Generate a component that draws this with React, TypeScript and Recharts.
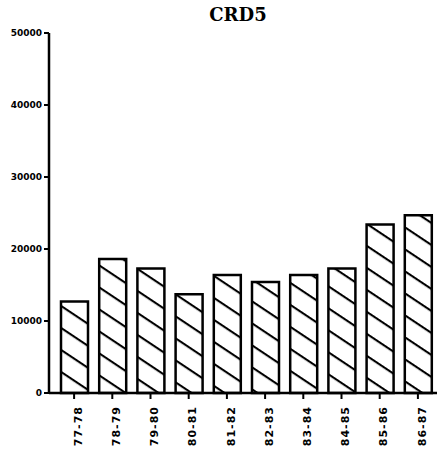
import { BarChart, Bar, XAxis, YAxis } from 'recharts';

const years = ['77-78', '78-79', '79-80', '80-81', '81-82', '82-83', '83-84', '84-85', '85-86', '86-87'];
const values = [12700, 18600, 17300, 13700, 16400, 15400, 16400, 17300, 23400, 24700];
const yTicks = [0, 10000, 20000, 30000, 40000, 50000];

const data = years.map((year, i) => ({ year, value: values[i] }));

const tickFont = { fontFamily: 'DejaVu Sans', fontWeight: 'bold', fontSize: 9, fill: '#000' };

const App = () => {
  return (
    <div style={{ position: 'absolute', left: 0, top: 0, width: 437, height: 460, background: '#fff' }}>
      <svg width={0} height={0} style={{ position: 'absolute' }}>
        <defs>
          <pattern id="hatch" patternUnits="userSpaceOnUse" width={10} height={18.3} patternTransform="rotate(33.7)">
            <line x1={-5} y1={1} x2={15} y2={1} stroke="#000" strokeWidth={2.2} />
          </pattern>
        </defs>
      </svg>
      <div
        style={{
          position: 'absolute',
          left: 188,
          width: 100,
          top: 4,
          textAlign: 'center',
          fontFamily: 'DejaVu Serif',
          fontWeight: 'bold',
          fontSize: 18,
          color: '#000',
        }}
      >
        CRD5
      </div>
      <BarChart width={437} height={460} data={data} margin={{ top: 33, right: 0, left: 0, bottom: 0 }} barSize={27}>
        <XAxis
          dataKey="year"
          height={67}
          interval={0}
          padding={{ left: 6, right: 0 }}
          axisLine={{ stroke: '#000', strokeWidth: 2.5 }}
          tickLine={{ stroke: '#000', strokeWidth: 2 }}
          tickSize={6}
          tickMargin={10}
          angle={-90}
          textAnchor="end"
          tick={{ ...tickFont, fontSize: 11, letterSpacing: 1, dy: -3 }}
        />
        <YAxis
          width={49}
          domain={[0, 50000]}
          ticks={yTicks}
          interval={0}
          axisLine={{ stroke: '#000', strokeWidth: 2.5 }}
          tickLine={{ stroke: '#000', strokeWidth: 2 }}
          tickSize={5}
          tickMargin={2}
          tick={tickFont}
        />
        <Bar dataKey="value" fill="url(#hatch)" stroke="#000" strokeWidth={2.5} isAnimationActive={false} />
      </BarChart>
    </div>
  );
};

export default App;
